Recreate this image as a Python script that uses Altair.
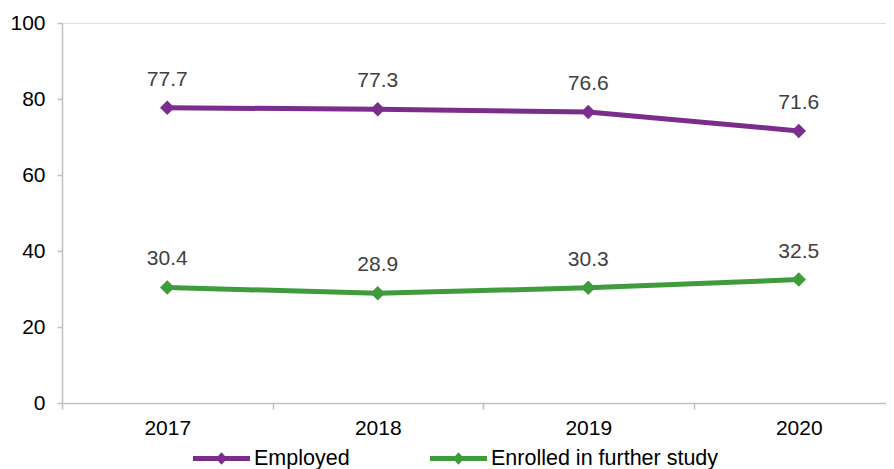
import altair as alt
import pandas as pd

years = ["2017", "2018", "2019", "2020"]
series_names = ["Employed", "Enrolled in further study"]
employed = [77.7, 77.3, 76.6, 71.6]
enrolled = [30.4, 28.9, 30.3, 32.5]
colors = ["#7B2D8E", "#3F9B3B"]
y_ticks = [0, 20, 40, 60, 80, 100]

rows = []
for y, v in zip(years, employed):
    rows.append({"year": y, "series": series_names[0], "value": v})
for y, v in zip(years, enrolled):
    rows.append({"year": y, "series": series_names[1], "value": v})
df = pd.DataFrame(rows)

FONT = "Liberation Sans"

x_enc = alt.X(
    "year:N",
    sort=years,
    title=None,
    scale=alt.Scale(range=[0, 842], paddingInner=0, paddingOuter=0),
    axis=alt.Axis(
        tickBand="extent",
        labelAngle=0,
        labelFontSize=21,
        labelColor="#000000",
        labelFont=FONT,
        labelPadding=8,
        domainColor="#BFBFBF",
        tickColor="#BFBFBF",
        tickSize=6,
        domainWidth=1.5,
        tickWidth=1.5,
        grid=False,
    ),
)
y_enc = alt.Y(
    "value:Q",
    title=None,
    scale=alt.Scale(domain=[0, 100], nice=False, zero=True),
    axis=alt.Axis(
        values=y_ticks,
        labelFontSize=21,
        labelColor="#000000",
        labelFont=FONT,
        labelPadding=12,
        domainColor="#BFBFBF",
        tickColor="#BFBFBF",
        tickSize=5,
        domainWidth=1.5,
        tickWidth=1.5,
        grid=False,
    ),
)
color_scale = alt.Scale(domain=series_names, range=colors)

legend = alt.Legend(
    title=None,
    orient="none",
    direction="horizontal",
    legendX=131,
    legendY=407,
    padding=0,
    symbolType="M-1,-0.088L1,-0.088L1,0.088L-1,0.088Z M-0.2,0L0,-0.22L0.2,0L0,0.22Z",
    symbolSize=3249,
    symbolStrokeWidth=0,
    symbolOpacity=1,
    labelFontSize=21.5,
    labelFont=FONT,
    labelColor="#000000",
    labelOffset=4,
    columnPadding=80,
    labelLimit=400,
)

base = alt.Chart(df).encode(x=x_enc, y=y_enc)

points = base.mark_point(shape="diamond", filled=True, size=210, opacity=1).encode(
    color=alt.Color("series:N", scale=color_scale, sort=series_names, legend=legend)
)

lines = base.mark_line(strokeWidth=5).encode(
    color=alt.Color("series:N", scale=color_scale, sort=series_names, legend=None)
)

labels = base.mark_text(
    dy=-28, fontSize=21, font=FONT, color="#404040", baseline="middle"
).encode(text=alt.Text("value:Q", format=".1f"))

chart = (
    alt.layer(points, lines, labels)
    .properties(
        width=824,
        height=380,
        autosize=alt.AutoSizeParams(type="none"),
        padding={"left": 54, "top": 15, "right": 0, "bottom": 66},
    )
    .configure_view(stroke=None)
    .configure(font=FONT)
)

chart.save("out.html", embed_options={"renderer": "svg", "actions": False})
